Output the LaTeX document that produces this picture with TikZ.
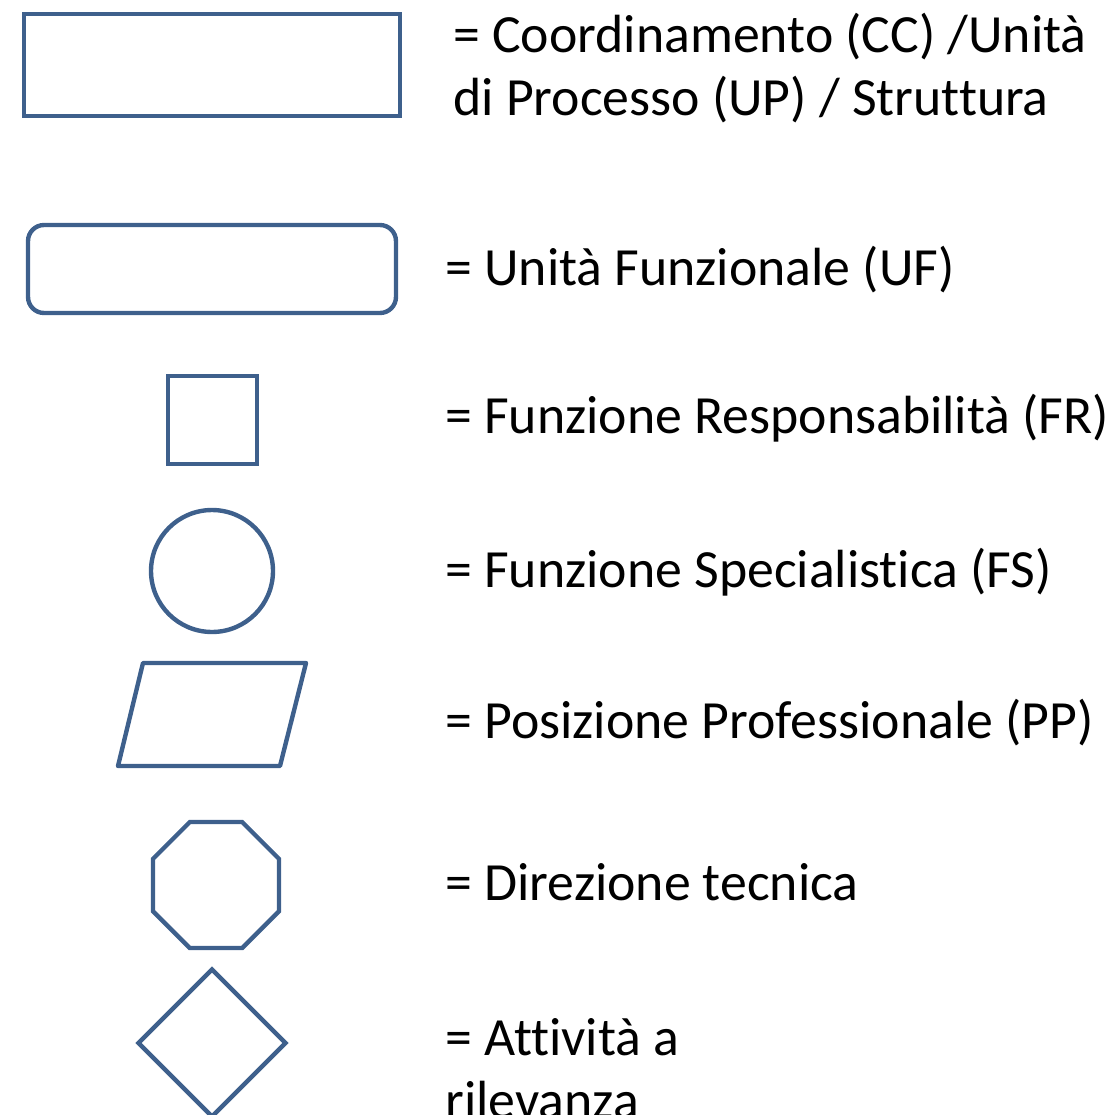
\documentclass[tikz,border=0pt]{standalone}
\usepackage{fontspec}
\setmainfont{Carlito}[Ligatures=NoCommon]
\usepackage{tikz}
\usetikzlibrary{shapes.geometric}
\definecolor{legend-blue}{RGB}{62,96,140}

\begin{document}
\begin{tikzpicture}[x=0.02cm, y=-0.02cm,
    legend shape/.style={draw=legend-blue, line width=2.5pt, inner sep=0pt},
    legend text/.style={anchor=base west, inner sep=0pt, align=left, font=\fontsize{30.6pt}{35.7pt}\selectfont}]
    \useasboundingbox (0, 0) rectangle (1110, 1115);

    \node[legend shape, rectangle, minimum width=7.52cm, minimum height=2.04cm] (cc_box) at (212, 65) {};
    \node[legend shape, rectangle, rounded corners=0.32cm, minimum width=7.36cm, minimum height=1.76cm] (uf_box) at (212, 269) {};
    \node[legend shape, rectangle, minimum width=1.78cm, minimum height=1.76cm] (fr_box) at (212.5, 420) {};
    \node[legend shape, circle, minimum size=2.44cm] (fs_box) at (212, 571) {};
    % parallelogram
    \coordinate (pp_tl) at (143, 663);
    \coordinate (pp_tr) at (306, 663);
    \coordinate (pp_br) at (280, 766);
    \coordinate (pp_bl) at (118, 766);
    \draw[legend shape, line join=round] (pp_tl) -- (pp_tr) -- (pp_br) -- (pp_bl) -- cycle;
    \node[legend shape, regular polygon, regular polygon sides=8, minimum size=2.73cm] (dt_box) at (216, 885) {};
    \node[legend shape, diamond, minimum width=2.98cm, minimum height=2.98cm] (ar_box) at (212, 1043) {};

    % base anchor sits on the last line
    \node[legend text] (cc_txt) at (453, 115) {= Coordinamento (CC) /Unità\\di Processo (UP) / Struttura};
    \node[legend text] (uf_txt) at (445, 285) {= Unità Funzionale (UF)};
    \node[legend text] (fr_txt) at (445, 433) {= Funzione Responsabilità (FR)};
    \node[legend text] (fs_txt) at (445, 587) {= Funzione Specialistica (FS)};
    \node[legend text] (pp_txt) at (445, 738) {= Posizione Professionale (PP)};
    \node[legend text] (dt_txt) at (445, 900) {= Direzione tecnica};
    \node[legend text] (ar_txt) at (445, 1118) {= Attività a\\rilevanza};
  \end{tikzpicture}
\end{document}
